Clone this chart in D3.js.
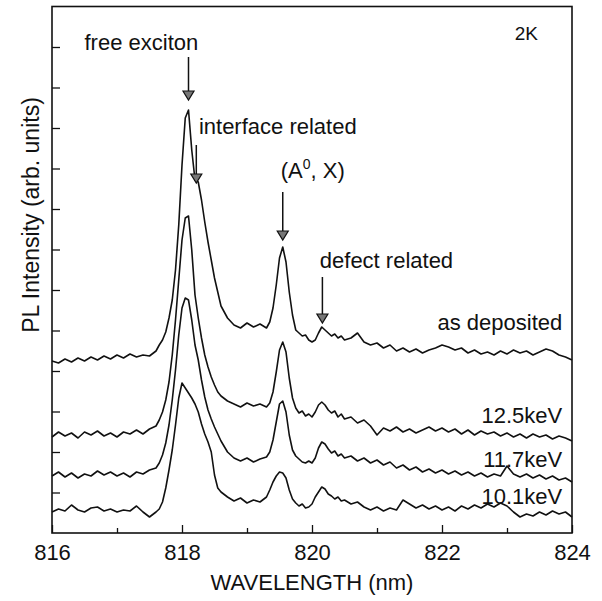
<!DOCTYPE html>
<html>
<head>
<meta charset="utf-8">
<script src="https://cdn.jsdelivr.net/npm/d3@7/dist/d3.min.js"></script>
<style>
body { margin: 0; background: #fff; }
text { font-family: "Liberation Sans", Arial, sans-serif; fill: #111; }
</style>
</head>
<body>
<div id="chart"></div>
<script>
// wavelength grid (nm), finer around the peaks
var wavelength = [
  816.0,816.1,816.2,816.3,816.4,816.5,816.6,816.7,816.8,816.9,
  817.0,817.1,817.2,817.3,817.4,817.5,817.6,817.65,817.7,817.75,
  817.8,817.85,817.9,817.95,818.0,818.05,818.1,818.15,818.2,818.25,
  818.3,818.35,818.4,818.45,818.5,818.55,818.6,818.7,818.8,818.9,
  819.0,819.1,819.2,819.3,819.35,819.4,819.45,819.5,819.55,819.6,
  819.65,819.7,819.75,819.8,819.85,819.9,819.95,820.0,820.05,820.1,
  820.15,820.2,820.25,820.3,820.35,820.4,820.45,820.5,820.6,820.7,
  820.8,820.9,821.0,821.1,821.2,821.3,821.4,821.5,821.6,821.7,
  821.8,821.9,822.0,822.1,822.2,822.3,822.4,822.5,822.6,822.7,
  822.8,822.9,823.0,823.1,823.2,823.3,823.4,823.5,823.6,823.7,
  823.8,823.9,824.0
];

// PL intensity (arb. units, traces offset vertically)
var asDeposited = [
  172,170,174,171,175,172,176,173,177,174,
  178,175,179,176,178,177,182,188,193,201,
  215,233,263,308,368,415,423,383,353,351,
  333,311,291,273,255,241,227,215,208,205,
  210,206,209,205,211,225,248,275,286,271,
  241,218,203,200,197,198,193,191,193,200,
  206,203,200,197,199,195,197,193,195,200,
  191,188,190,185,188,182,185,181,184,180,
  183,185,188,186,183,185,180,183,179,181,
  178,182,179,183,180,182,178,181,184,182,
  178,176,173
];
var kev125 = [
  96,101,97,100,95,101,98,102,97,100,
  96,101,99,103,99,104,107,113,121,133,
  151,178,213,253,293,315,317,283,238,215,
  195,178,166,156,148,141,137,132,129,126,
  130,127,129,126,130,141,161,183,191,181,
  155,135,125,120,122,117,119,116,121,128,
  131,128,123,120,122,116,119,114,116,110,
  113,107,98,105,102,106,101,104,100,103,
  106,102,105,101,104,99,103,98,102,99,
  101,97,100,96,99,95,99,96,98,94,
  97,95,92
];
var kev117 = [
  57,61,56,60,55,59,57,62,58,61,
  57,60,56,61,59,63,65,70,78,90,
  108,133,163,198,225,235,233,213,188,173,
  153,136,123,114,106,99,92,81,75,72,
  75,71,74,76,81,93,111,129,132,121,
  98,83,77,74,71,70,72,70,75,85,
  91,89,84,80,82,77,79,75,77,72,
  75,70,73,68,71,65,68,63,66,61,
  64,60,63,59,62,58,61,57,60,56,
  59,57,67,59,56,59,55,58,54,57,
  53,55,51
];
var kev101 = [
  21,24,22,28,23,21,25,26,22,24,
  21,23,22,27,21,16,21,24,31,45,
  63,83,108,135,150,145,140,135,129,121,
  109,99,91,81,58,45,41,36,32,35,
  30,33,31,36,43,51,57,61,60,55,
  43,34,30,27,29,25,26,29,36,41,
  46,44,39,37,34,36,32,33,29,31,
  26,23,26,22,25,23,33,29,25,28,
  24,27,23,26,22,27,24,28,25,29,
  26,30,27,21,16,19,17,21,18,22,
  19,21,16
];

var seriesLabels = ["as deposited", "12.5keV", "11.7keV", "10.1keV"];
var seriesLabelLevel = [203, 110, 66, 29];

var majorTicks = [816, 818, 820, 822, 824];
var minorTicks = [817, 819, 821, 823];
var yTicks = [40.5, 81, 121.5, 162, 202.5, 243, 283.5, 324, 364.5, 405, 445.5, 486];

// peak markers: wavelength, arrow start and arrow tip (intensity units)
var arrowWl = [818.1, 818.22, 819.55, 820.16];
var arrowFrom = [476, 388, 341, 256];
var arrowTo = [433, 350, 293, 210];

var noteText = ["free exciton", "interface related", "defect related", "2K"];
var noteWl = [816.5, 818.26, 820.12, 823.12];
var noteLevel = [483, 399, 265, 493];

var margin = {top: 6.5, right: 30, bottom: 68, left: 52},
    width = 602 - margin.left - margin.right,
    height = 601 - margin.top - margin.bottom;

var x = d3.scaleLinear().domain([816, 824]).range([0, width]);
var y = d3.scaleLinear().domain([0, 526.5]).range([height, 0]);

var svg = d3.select("#chart").append("svg")
    .attr("width", 602)
    .attr("height", 601)
  .append("g")
    .attr("transform", "translate(" + margin.left + "," + margin.top + ")");

// ticks (inward)
var xAxis = svg.append("g")
    .attr("transform", "translate(0," + height + ")")
    .call(d3.axisBottom(x).tickValues(majorTicks).tickSize(-8).tickPadding(11)
      .tickFormat(d3.format("d")));
xAxis.selectAll("text").style("font-size", "22px").attr("fill", "#111");

var xMinor = svg.append("g")
    .attr("transform", "translate(0," + height + ")")
    .call(d3.axisBottom(x).tickValues(minorTicks).tickSize(-5).tickFormat(""));

var yAxis = svg.append("g")
    .call(d3.axisLeft(y).tickValues(yTicks).tickSize(-8).tickFormat(""));

svg.selectAll(".domain").remove();
svg.selectAll(".tick line").attr("stroke", "#111").attr("stroke-width", 1.3);

// frame
svg.append("rect")
    .attr("width", width)
    .attr("height", height)
    .attr("fill", "none")
    .attr("stroke", "#111")
    .attr("stroke-width", 1.6);

// spectra
var traces = [asDeposited, kev125, kev117, kev101];
var spectrum = d3.line()
    .x(function(d, i) { return x(wavelength[i]); })
    .y(function(d) { return y(d); });

svg.selectAll(".trace")
    .data(traces)
  .enter().append("path")
    .attr("class", "trace")
    .attr("fill", "none")
    .attr("stroke", "#111")
    .attr("stroke-width", 1.6)
    .attr("stroke-linejoin", "round")
    .attr("d", spectrum);

// series labels
svg.selectAll(".slabel")
    .data(seriesLabels)
  .enter().append("text")
    .attr("class", "slabel")
    .attr("x", x(823.85))
    .attr("y", function(d, i) { return y(seriesLabelLevel[i]); })
    .attr("text-anchor", "end")
    .style("font-size", "22px")
    .text(function(d) { return d; });

// arrows
arrowWl.forEach(function(w, i) {
  var ax = x(w), y0 = y(arrowFrom[i]), y1 = y(arrowTo[i]);
  svg.append("line")
      .attr("x1", ax).attr("x2", ax)
      .attr("y1", y0).attr("y2", y1 - 8)
      .attr("stroke", "#111")
      .attr("stroke-width", 1.5);
  svg.append("path")
      .attr("d", "M" + (ax - 5.5) + "," + (y1 - 9) + "L" + (ax + 5.5) + "," + (y1 - 9) + "L" + ax + "," + y1 + "Z")
      .attr("fill", "#777")
      .attr("stroke", "#111")
      .attr("stroke-width", 1.2);
});

// annotations
noteText.forEach(function(t, i) {
  svg.append("text")
      .attr("x", x(noteWl[i]))
      .attr("y", y(noteLevel[i]))
      .style("font-size", t == "2K" ? "19px" : "22px")
      .text(t);
});

var ax0 = svg.append("text")
    .attr("x", x(819.52))
    .attr("y", y(355))
    .style("font-size", "22px");
ax0.append("tspan").text("(A");
ax0.append("tspan").attr("dy", -9).style("font-size", "14px").text("0");
ax0.append("tspan").attr("dy", 9).text(", X)");

// axis titles
svg.append("text")
    .attr("x", width / 2)
    .attr("y", height + 57)
    .attr("text-anchor", "middle")
    .style("font-size", "22px")
    .text("WAVELENGTH (nm)");

svg.append("text")
    .attr("transform", "rotate(-90)")
    .attr("x", -(215 - margin.top))
    .attr("y", -margin.left + 31)
    .attr("dy", "0.35em")
    .attr("text-anchor", "middle")
    .style("font-size", "23px")
    .text("PL Intensity (arb. units)");
</script>
</body>
</html>
